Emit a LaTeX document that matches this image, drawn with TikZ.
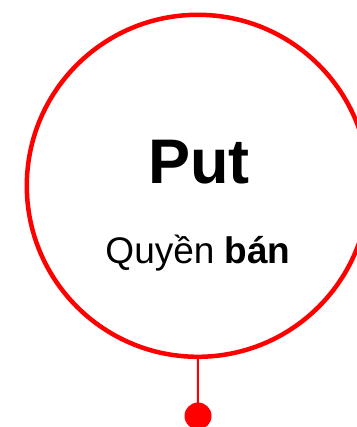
\documentclass[tikz,border=0pt]{standalone}
\usepackage{fontspec}
\setmainfont{Liberation Sans}
\begin{document}
\begin{tikzpicture}[x=1pt,y=1pt,
  ring/.style={circle, draw=red, line width=4.5pt, minimum size=342pt, inner sep=0pt},
  dotnode/.style={circle, fill=red, minimum size=27pt, inner sep=0pt},
  stem/.style={draw=red, line width=2pt}]
\useasboundingbox (0,0) rectangle (356,-427);
\node[ring] (c) at (197.8,-185.8) {};
\node[dotnode] (d) at (198,-416) {};
\draw[stem] (c.south) -- (d.center);
\node[anchor=base, inner sep=0pt] (t1) at (199,-184) {\fontsize{63}{70}\selectfont\bfseries Put};
\node[anchor=base, inner sep=0pt] (t2) at (198,-263) {\fontsize{37}{44}\selectfont Quyền \textbf{bán}};
\end{tikzpicture}
\end{document}
